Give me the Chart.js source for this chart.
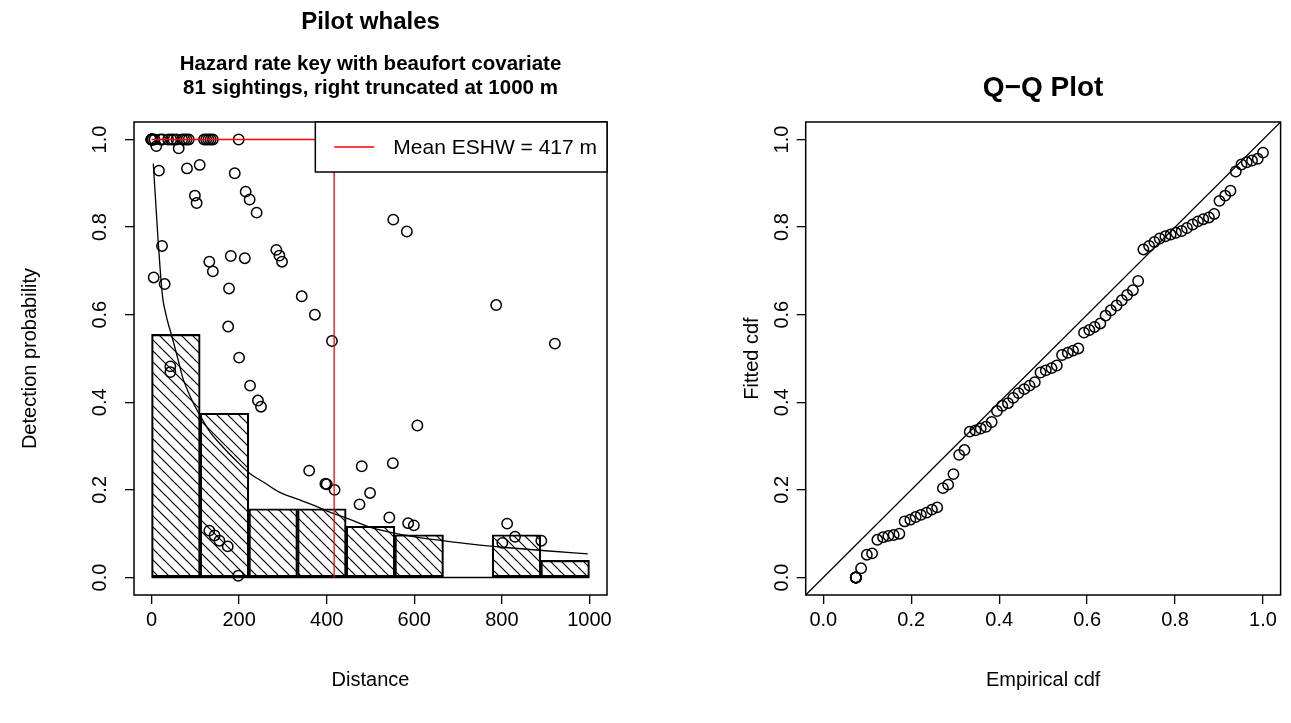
<!DOCTYPE html>
<html>
<head>
<meta charset="utf-8">
<title>Pilot whales detection function</title>
<script src="https://cdn.jsdelivr.net/npm/chart.js@4.4.1/dist/chart.umd.min.js"></script>
<style>
  body { margin: 0; background: #fff; }
  #wrap { position: relative; width: 1291px; height: 723px; }
  canvas { position: absolute; top: 0; }
  #left { left: 0; }
  #right { left: 645px; }
</style>
</head>
<body>
<div id="wrap">
  <canvas id="left" width="645" height="723"></canvas>
  <canvas id="right" width="646" height="723"></canvas>
</div>
<script>
// ---- data ----
// histogram of scaled detections (bin mid points, bar heights)
var binMids = [55.6, 166.7, 277.8, 388.9, 500, 611.1, 722.2, 833.3, 944.4];
var binHeights = [0.555, 0.375, 0.157, 0.157, 0.117, 0.0975, 0, 0.0975, 0.039];
var histRange = [0, 1000];

// sighting distances and their detection probabilities
var sightDist = [0, 0, 0, 0, 0, 0, 3, 7, 11, 20, 25, 38, 45, 50, 57, 62, 70, 75, 80, 85,
  120, 125, 130, 135, 140, 199,
  17, 81, 110, 190, 99, 103, 215, 224, 240, 24, 132, 140, 181, 213, 285, 292, 298,
  5, 30, 177, 343, 373, 175, 412, 200, 43, 43, 225, 243, 250, 360, 480, 397, 400,
  418, 499, 475, 132, 144, 155, 174, 198, 787, 921, 607, 551, 543, 586, 599, 812,
  830, 801, 890, 552, 583];
var sightProb = [1, 1, 1, 1, 1, 1, 1, 1, 0.985, 1, 1, 1, 1, 1, 1, 0.98, 1, 1, 1, 1,
  1, 1, 1, 1, 1, 1,
  0.929, 0.934, 0.942, 0.923, 0.872, 0.855, 0.881, 0.863, 0.833, 0.757, 0.721, 0.699, 0.734, 0.729, 0.748, 0.735, 0.721,
  0.685, 0.670, 0.660, 0.642, 0.600, 0.573, 0.540, 0.502, 0.482, 0.469, 0.438, 0.404, 0.390, 0.244, 0.254, 0.214, 0.213,
  0.200, 0.193, 0.167, 0.107, 0.096, 0.084, 0.071, 0.004, 0.622, 0.534, 0.347, 0.261, 0.137, 0.124, 0.119, 0.123,
  0.093, 0.079, 0.084, 0.817, 0.790];

// average fitted detection function
var curveX = [4, 10, 15, 20, 26, 32, 38, 45, 60, 71, 90, 113, 135, 163, 190, 224, 260, 292,
  330, 368, 410, 444, 498, 560, 620, 665, 730, 802, 900, 996];
var curveY = [0.945, 0.85, 0.77, 0.70, 0.635, 0.605, 0.58, 0.556, 0.50, 0.457, 0.41, 0.366, 0.33, 0.298,
  0.27, 0.238, 0.215, 0.195, 0.18, 0.166, 0.148, 0.136, 0.115, 0.100, 0.090, 0.084, 0.076, 0.069, 0.061, 0.054];

var meanEshw = 417;

var xTicksL = [0, 200, 400, 600, 800, 1000];
var xTickLabelsL = ['0', '200', '400', '600', '800', '1000'];
var probTicks = [0, 0.2, 0.4, 0.6, 0.8, 1];
var probTickLabels = ['0.0', '0.2', '0.4', '0.6', '0.8', '1.0'];

// Q-Q plot: empirical cdf vs fitted cdf
var qqEmp = [0.074, 0.074, 0.074, 0.074, 0.074, 0.074,
  0.086, 0.099, 0.111, 0.123, 0.136, 0.148, 0.160, 0.173, 0.185, 0.198, 0.210, 0.222, 0.235, 0.247,
  0.259, 0.272, 0.284, 0.296, 0.309, 0.321, 0.333, 0.346, 0.358, 0.370, 0.383, 0.395, 0.407, 0.420,
  0.432, 0.444, 0.457, 0.469, 0.481, 0.494, 0.506, 0.519, 0.531, 0.543, 0.556, 0.568, 0.580, 0.593,
  0.605, 0.617, 0.630, 0.642, 0.654, 0.667, 0.679, 0.691, 0.704, 0.716, 0.728, 0.741, 0.753, 0.765,
  0.778, 0.790, 0.802, 0.815, 0.827, 0.840, 0.852, 0.864, 0.877, 0.889, 0.901, 0.914, 0.926, 0.938,
  0.951, 0.963, 0.975, 0.988, 1.000];
var qqFit = [0, 0, 0, 0, 0, 0,
  0.021, 0.052, 0.055, 0.086, 0.092, 0.095, 0.097, 0.100,
  0.128, 0.132, 0.138, 0.143, 0.148, 0.155, 0.160,
  0.204, 0.212, 0.236, 0.280, 0.291,
  0.333, 0.336, 0.340, 0.344, 0.355,
  0.380, 0.392, 0.398, 0.410, 0.421, 0.430, 0.438, 0.446,
  0.468, 0.473, 0.478, 0.484,
  0.508, 0.513, 0.518, 0.523,
  0.559, 0.565, 0.572, 0.580,
  0.598, 0.610, 0.621, 0.633, 0.645, 0.656, 0.677,
  0.749, 0.757, 0.766, 0.774, 0.779, 0.783, 0.787,
  0.791, 0.798, 0.806, 0.813, 0.818, 0.822, 0.830,
  0.860, 0.872, 0.883,
  0.927, 0.943, 0.948, 0.952, 0.956, 0.970];
var qqRange = [-0.04, 1.04];
var cdfTicks = [0, 0.2, 0.4, 0.6, 0.8, 1];
var cdfTickLabels = ['0.0', '0.2', '0.4', '0.6', '0.8', '1.0'];

// ---- drawing ----
var FONT = "'Liberation Sans', Arial, Helvetica, sans-serif";
Chart.defaults.font.family = FONT;
Chart.defaults.color = '#000';

function toXY(xs, ys) {
    return xs.map(function (x, i) { return { x: x, y: ys[i] }; });
}

// "\\\\" shading like R's density= hatching
function makeHatch(ctx) {
    var s = 11;
    var c = document.createElement('canvas');
    c.width = s; c.height = s;
    var g = c.getContext('2d');
    g.strokeStyle = '#000';
    g.lineWidth = 1.2;
    g.beginPath();
    g.moveTo(-1, -1); g.lineTo(s + 1, s + 1);
    g.moveTo(-1, s - 1); g.lineTo(1, s + 1);
    g.moveTo(s - 1, -1); g.lineTo(s + 1, 1);
    g.stroke();
    return ctx.createPattern(c, 'repeat');
}

var tickGrid = {
    display: true, drawOnChartArea: false, drawTicks: true,
    tickLength: 9, color: '#000', lineWidth: 1.3, offset: false
};

// box round the plot region
var framePlugin = {
    id: 'frame',
    afterDatasetsDraw: function (chart) {
        var a = chart.chartArea, ctx = chart.ctx;
        ctx.save();
        ctx.strokeStyle = '#000';
        ctx.lineWidth = 1.5;
        ctx.strokeRect(a.left, a.top, a.right - a.left, a.bottom - a.top);
        ctx.restore();
    }
};

// R style y tick labels, written parallel to the axis
function yLabelPlugin(ticks, labels, dist) {
    return {
        id: 'ylabels',
        afterDraw: function (chart) {
            var ctx = chart.ctx, y = chart.scales.y, a = chart.chartArea;
            ctx.save();
            ctx.font = '20px ' + FONT;
            ctx.fillStyle = '#000';
            ctx.textAlign = 'center';
            ctx.textBaseline = 'middle';
            ticks.forEach(function (v, i) {
                ctx.save();
                ctx.translate(a.left - dist, y.getPixelForValue(v));
                ctx.rotate(-Math.PI / 2);
                ctx.fillText(labels[i], 0, 0);
                ctx.restore();
            });
            ctx.restore();
        }
    };
}

function titlePlugin(lines) {
    return {
        id: 'rtitle',
        afterDraw: function (chart) {
            var ctx = chart.ctx, a = chart.chartArea;
            var cx = (a.left + a.right) / 2;
            ctx.save();
            ctx.fillStyle = '#000';
            ctx.textAlign = 'center';
            ctx.textBaseline = 'middle';
            lines.forEach(function (l) {
                ctx.font = 'bold ' + l.size + 'px ' + FONT;
                ctx.fillText(l.text, cx, l.y);
            });
            ctx.restore();
        }
    };
}

var legendText = 'Mean ESHW = ' + meanEshw + ' m';
var legendPlugin = {
    id: 'eshwLegend',
    afterDatasetsDraw: function (chart) {
        var ctx = chart.ctx, a = chart.chartArea;
        ctx.save();
        ctx.font = '21px ' + FONT;
        var tw = ctx.measureText(legendText).width;
        var w = tw + 88, h = 50;
        var x0 = a.right - w, y0 = a.top;
        ctx.fillStyle = '#fff';
        ctx.fillRect(x0, y0, w, h);
        ctx.strokeStyle = '#000';
        ctx.lineWidth = 1.5;
        ctx.strokeRect(x0, y0, w, h);
        ctx.strokeStyle = '#ff0000';
        ctx.lineWidth = 1.3;
        ctx.beginPath();
        ctx.moveTo(x0 + 19, y0 + h / 2);
        ctx.lineTo(x0 + 59, y0 + h / 2);
        ctx.stroke();
        ctx.fillStyle = '#000';
        ctx.textBaseline = 'middle';
        ctx.fillText(legendText, x0 + 78, y0 + h / 2 + 1);
        ctx.restore();
    }
};

var leftCanvas = document.getElementById('left');
var hatch = makeHatch(leftCanvas.getContext('2d'));

var leftChart = new Chart(leftCanvas, {
    type: 'bar',
    data: {
        datasets: [{
            type: 'line',
            data: toXY([0, meanEshw, meanEshw], [1, 1, 0]),
            borderColor: '#ff0000', borderWidth: 1.3, pointRadius: 0, order: 0
        }, {
            type: 'line',
            data: toXY(curveX, curveY),
            borderColor: '#000', borderWidth: 1.3, pointRadius: 0,
            cubicInterpolationMode: 'monotone', order: 1
        }, {
            type: 'scatter',
            data: toXY(sightDist, sightProb),
            pointStyle: 'circle', pointRadius: 5.2,
            borderColor: '#000', backgroundColor: 'rgba(0,0,0,0)', borderWidth: 1.5, order: 2
        }, {
            type: 'line',
            data: toXY(histRange, [0, 0]),
            borderColor: '#000', borderWidth: 1.4, pointRadius: 0, order: 3
        }, {
            type: 'bar',
            data: toXY(binMids, binHeights),
            backgroundColor: hatch, borderColor: '#000', borderWidth: 1.5,
            borderSkipped: false, barPercentage: 1, categoryPercentage: 1, order: 4
        }]
    },
    options: {
        responsive: false,
        animation: false,
        devicePixelRatio: 1,
        events: [],
        layout: { padding: { left: 0, right: 38, top: 122, bottom: 0 } },
        plugins: { legend: { display: false }, tooltip: { enabled: false } },
        scales: {
            x: {
                type: 'linear', min: -40, max: 1040, offset: false,
                afterBuildTicks: function (s) { s.ticks = xTicksL.map(function (v) { return { value: v }; }); },
                afterFit: function (s) { s.height = 128; },
                grid: tickGrid,
                border: { display: false },
                ticks: {
                    font: { size: 20 }, color: '#000', padding: 4, maxRotation: 0, autoSkip: false,
                    callback: function (v, i) { return xTickLabelsL[i]; }
                },
                title: { display: true, text: 'Distance', font: { size: 20 }, padding: { top: 0, bottom: 31 } }
            },
            y: {
                type: 'linear', min: -0.04, max: 1.04,
                afterBuildTicks: function (s) { s.ticks = probTicks.map(function (v) { return { value: v }; }); },
                afterFit: function (s) { s.width = 134; },
                grid: tickGrid,
                border: { display: false },
                ticks: { display: false },
                title: { display: true, text: 'Detection probability', font: { size: 20 }, padding: { top: 18, bottom: 0 } }
            }
        }
    },
    plugins: [framePlugin, legendPlugin, yLabelPlugin(probTicks, probTickLabels, 34),
        titlePlugin([
            { text: 'Pilot whales', size: 24, y: 22 },
            { text: 'Hazard rate key with beaufort covariate', size: 20.5, y: 64 },
            { text: '81 sightings, right truncated at 1000 m', size: 20.5, y: 88 }
        ])]
});

var rightChart = new Chart(document.getElementById('right'), {
    type: 'scatter',
    data: {
        datasets: [{
            type: 'line',
            data: toXY(qqRange, qqRange),
            borderColor: '#000', borderWidth: 1.3, pointRadius: 0, order: 0
        }, {
            data: toXY(qqEmp, qqFit),
            pointStyle: 'circle', pointRadius: 5.2,
            borderColor: '#000', backgroundColor: 'rgba(0,0,0,0)', borderWidth: 1.5, order: 1
        }]
    },
    options: {
        responsive: false,
        animation: false,
        devicePixelRatio: 1,
        events: [],
        layout: { padding: { left: 0, right: 10.4, top: 122, bottom: 0 } },
        plugins: { legend: { display: false }, tooltip: { enabled: false } },
        scales: {
            x: {
                type: 'linear', min: qqRange[0], max: qqRange[1], offset: false,
                afterBuildTicks: function (s) { s.ticks = cdfTicks.map(function (v) { return { value: v }; }); },
                afterFit: function (s) { s.height = 128; },
                grid: tickGrid,
                border: { display: false },
                ticks: {
                    font: { size: 20 }, color: '#000', padding: 4, maxRotation: 0, autoSkip: false,
                    callback: function (v, i) { return cdfTickLabels[i]; }
                },
                title: { display: true, text: 'Empirical cdf', font: { size: 20 }, padding: { top: 0, bottom: 31 } }
            },
            y: {
                type: 'linear', min: qqRange[0], max: qqRange[1],
                afterBuildTicks: function (s) { s.ticks = cdfTicks.map(function (v) { return { value: v }; }); },
                afterFit: function (s) { s.width = 160.7; },
                grid: tickGrid,
                border: { display: false },
                ticks: { display: false },
                title: { display: true, text: 'Fitted cdf', font: { size: 20 }, padding: { top: 95, bottom: 0 } }
            }
        }
    },
    plugins: [framePlugin, yLabelPlugin(cdfTicks, cdfTickLabels, 23),
        titlePlugin([{ text: 'Q\u2212Q Plot', size: 28, y: 88 }])]
});
</script>
</body>
</html>
